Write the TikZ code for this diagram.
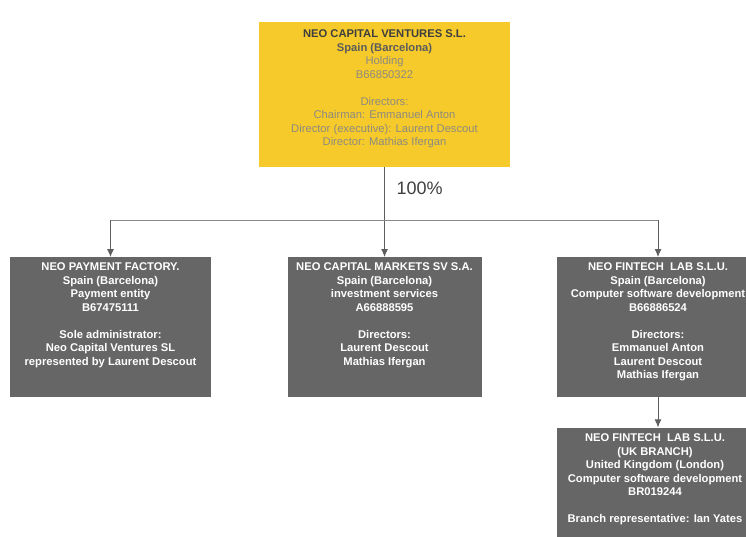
\documentclass[tikz,border=0pt]{standalone}
\usepackage{fontspec}
\setmainfont{Liberation Sans}
\usepackage{xcolor}
\usepackage{tikz}
\usetikzlibrary{positioning, arrows.meta}

\definecolor{holdyellow}{HTML}{F5CA2A}
\definecolor{subgray}{HTML}{666666}
\definecolor{linegray}{HTML}{5E5E5E}
\definecolor{busgray}{HTML}{8A8A8A}
\definecolor{titlegray}{HTML}{3E3E3E}
\definecolor{softgray}{HTML}{8E8A80}

\begin{document}
\begin{tikzpicture}[x=1pt, y=-1pt,
  holding/.style={anchor=north, fill=holdyellow, minimum width=251pt, minimum height=145pt, inner sep=0pt},
  subsid/.style={anchor=north, fill=subgray, minimum height=140pt, inner sep=0pt},
  info/.style={anchor=north, align=center, inner sep=0pt, font=\fontsize{11.2}{13.5}\selectfont},
  subinfo/.style={info, text=white, font=\fontsize{11.2}{13.5}\selectfont\bfseries},
  link/.style={draw=linegray, line width=0.9pt},
  arr/.style={link, -{Latex[length=8pt,width=7pt]}}]
\useasboundingbox (0,0) rectangle (746,537);

% holding
\node[holding] (ncv) at (384.5,22) {};
\node[info, below=7.5pt of ncv.north] (ncvtxt) {%
  \textcolor{titlegray}{\textbf{NEO CAPITAL VENTURES S.L.}}\\
  \textcolor{titlegray!85}{\textbf{Spain (Barcelona)}}\\
  \textcolor{softgray}{Holding}\\
  \textcolor{softgray}{B66850322}\\[13.5pt]
  \textcolor{softgray}{Directors:}\\
  \textcolor{softgray}{Chairman: Emmanuel Anton}\\
  \textcolor{softgray}{Director (executive): Laurent Descout}\\
  \textcolor{softgray}{Director: Mathias Ifergan}};

% subsidiaries
\node[subsid, minimum width=201pt] (pay) at (110.5,257) {};
\node[subinfo, below=5.5pt of pay.north] (paytxt) {NEO PAYMENT FACTORY.\\
  Spain (Barcelona)\\ Payment entity\\ B67475111\\[13.5pt]
  Sole administrator:\\ Neo Capital Ventures SL\\ represented by Laurent Descout};

\node[subsid, minimum width=194pt] (mkt) at (384.5,257) {};
\node[subinfo, below=5.5pt of mkt.north] (mkttxt) {NEO CAPITAL MARKETS SV S.A.\\
  Spain (Barcelona)\\ investment services\\ A66888595\\[13.5pt]
  Directors:\\ Laurent Descout\\ Mathias Ifergan};

\node[subsid, minimum width=202pt] (fin) at (658,257) {};
\node[subinfo, below=5.5pt of fin.north] (fintxt) {NEO FINTECH\ \ LAB S.L.U.\\
  Spain (Barcelona)\\ Computer software development\\ B66886524\\[13.5pt]
  Directors:\\ Emmanuel Anton\\ Laurent Descout\\ Mathias Ifergan};

% branch
\node[subsid, minimum width=202pt, below=30pt of fin] (ukb) {};
\node[subinfo, below=6.5pt of ukb.north, xshift=-3pt] (ukbtxt) {NEO FINTECH\ \ LAB S.L.U.\\
  (UK BRANCH)\\ United Kingdom (London)\\ Computer software development\\ BR019244\\[13.5pt]
  Branch representative: Ian Yates};

% connectors
\coordinate (bus) at (384.5,220);
\draw[arr] (ncv.south) -- (mkt.north);
\draw[link, draw=busgray] (pay.north |- bus) -- (fin.north |- bus);
\draw[arr] (pay.north |- bus) -- (pay.north);
\draw[arr] (fin.north |- bus) -- (fin.north);
\draw[arr] (fin.south) -- (ukb.north);
\node[anchor=west, text=titlegray, font=\fontsize{18}{20}\selectfont] (pct) at (393,188) {100\%};
\end{tikzpicture}
\end{document}
